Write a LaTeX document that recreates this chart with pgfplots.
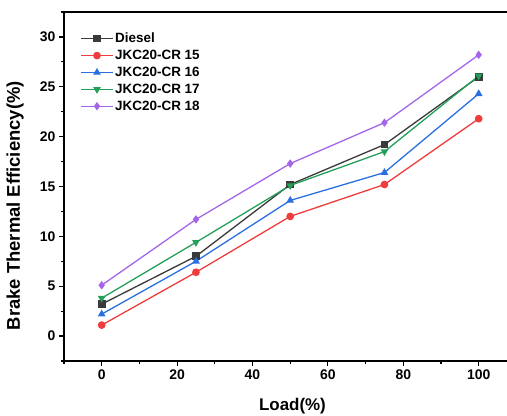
\documentclass[border=0pt]{standalone}
\usepackage{pgfplots}
\pgfplotsset{compat=1.18}
\usepackage{fontspec}
\setmainfont{Liberation Sans}
\definecolor{cdiesel}{HTML}{3A3A3A}
\definecolor{c15}{HTML}{F03C3C}
\definecolor{c16}{HTML}{2A6FE0}
\definecolor{c17}{HTML}{22A05A}
\definecolor{c18}{HTML}{A366E8}

\begin{document}
\begin{tikzpicture}
\begin{axis}[name=ax,scale only axis,width=452.4bp,height=349bp,
 xmin=-10,xmax=110,ymin=-2.5,ymax=32.5,
 axis x line=box,axis y line=left,
 xtick={0,20,...,100},ytick={0,5,...,30},
 minor xtick={-10,10,30,50,70,90},minor ytick={-2.5,2.5,...,32.5},
 tick align=outside,xtick pos=bottom,ytick pos=left,
 major tick length=5bp,minor tick length=3bp,
 every tick/.style={black,line width=1.2pt},
 axis line style={line width=1.6pt,-},
 tick label style={font=\bfseries\fontsize{14}{16}\selectfont},
 /pgf/number format/assume math mode=true,
 xlabel={Load(\%)},ylabel={Brake Thermal Efficiency(\%)},
 label style={font=\bfseries\fontsize{17}{19}\selectfont},
 xlabel style={at={(axis description cs:0.505,-0.129)},anchor=center},
 ylabel style={font=\bfseries\fontsize{18.5}{20}\selectfont,
  at={(axis description cs:-0.108,0.445)},anchor=center},
 legend style={draw=none,fill=none,at={(axis description cs:0.03,0.952)},anchor=north west,
  font=\bfseries\fontsize{13.5}{15}\selectfont,row sep=2pt},
 legend cell align=left,
 legend image code/.code={\draw[mark repeat=2,mark phase=2] plot coordinates {(0cm,0cm)(0.55cm,0cm)(1.1cm,0cm)};},
 every axis plot/.append style={line width=1.3pt,mark size=3.2pt}]
\addplot[cdiesel,mark=square*] coordinates {(0,3.2)(25,8.0)(50,15.2)(75,19.2)(100,26.0)};
\addlegendentry{Diesel}
\addplot[c15,mark=*] coordinates {(0,1.1)(25,6.4)(50,12.0)(75,15.2)(100,21.8)};
\addlegendentry{JKC20-CR 15}
\addplot[c16,mark=triangle*] coordinates {(0,2.2)(25,7.5)(50,13.6)(75,16.4)(100,24.3)};
\addlegendentry{JKC20-CR 16}
\addplot[c17,mark=triangle*,mark options={rotate=180}] coordinates {(0,3.8)(25,9.4)(50,15.1)(75,18.5)(100,26.1)};
\addlegendentry{JKC20-CR 17}
\addplot[c18,mark=diamond*] coordinates {(0,5.1)(25,11.7)(50,17.3)(75,21.4)(100,28.2)};
\addlegendentry{JKC20-CR 18}
\end{axis}
\pgfresetboundingbox
\path (ax.south west)++(-64bp,-55bp) coordinate (bl);
\path (ax.north west)++(443bp,12bp) coordinate (tr);
\path[use as bounding box] (bl) rectangle (tr);
\end{tikzpicture}
\end{document}
